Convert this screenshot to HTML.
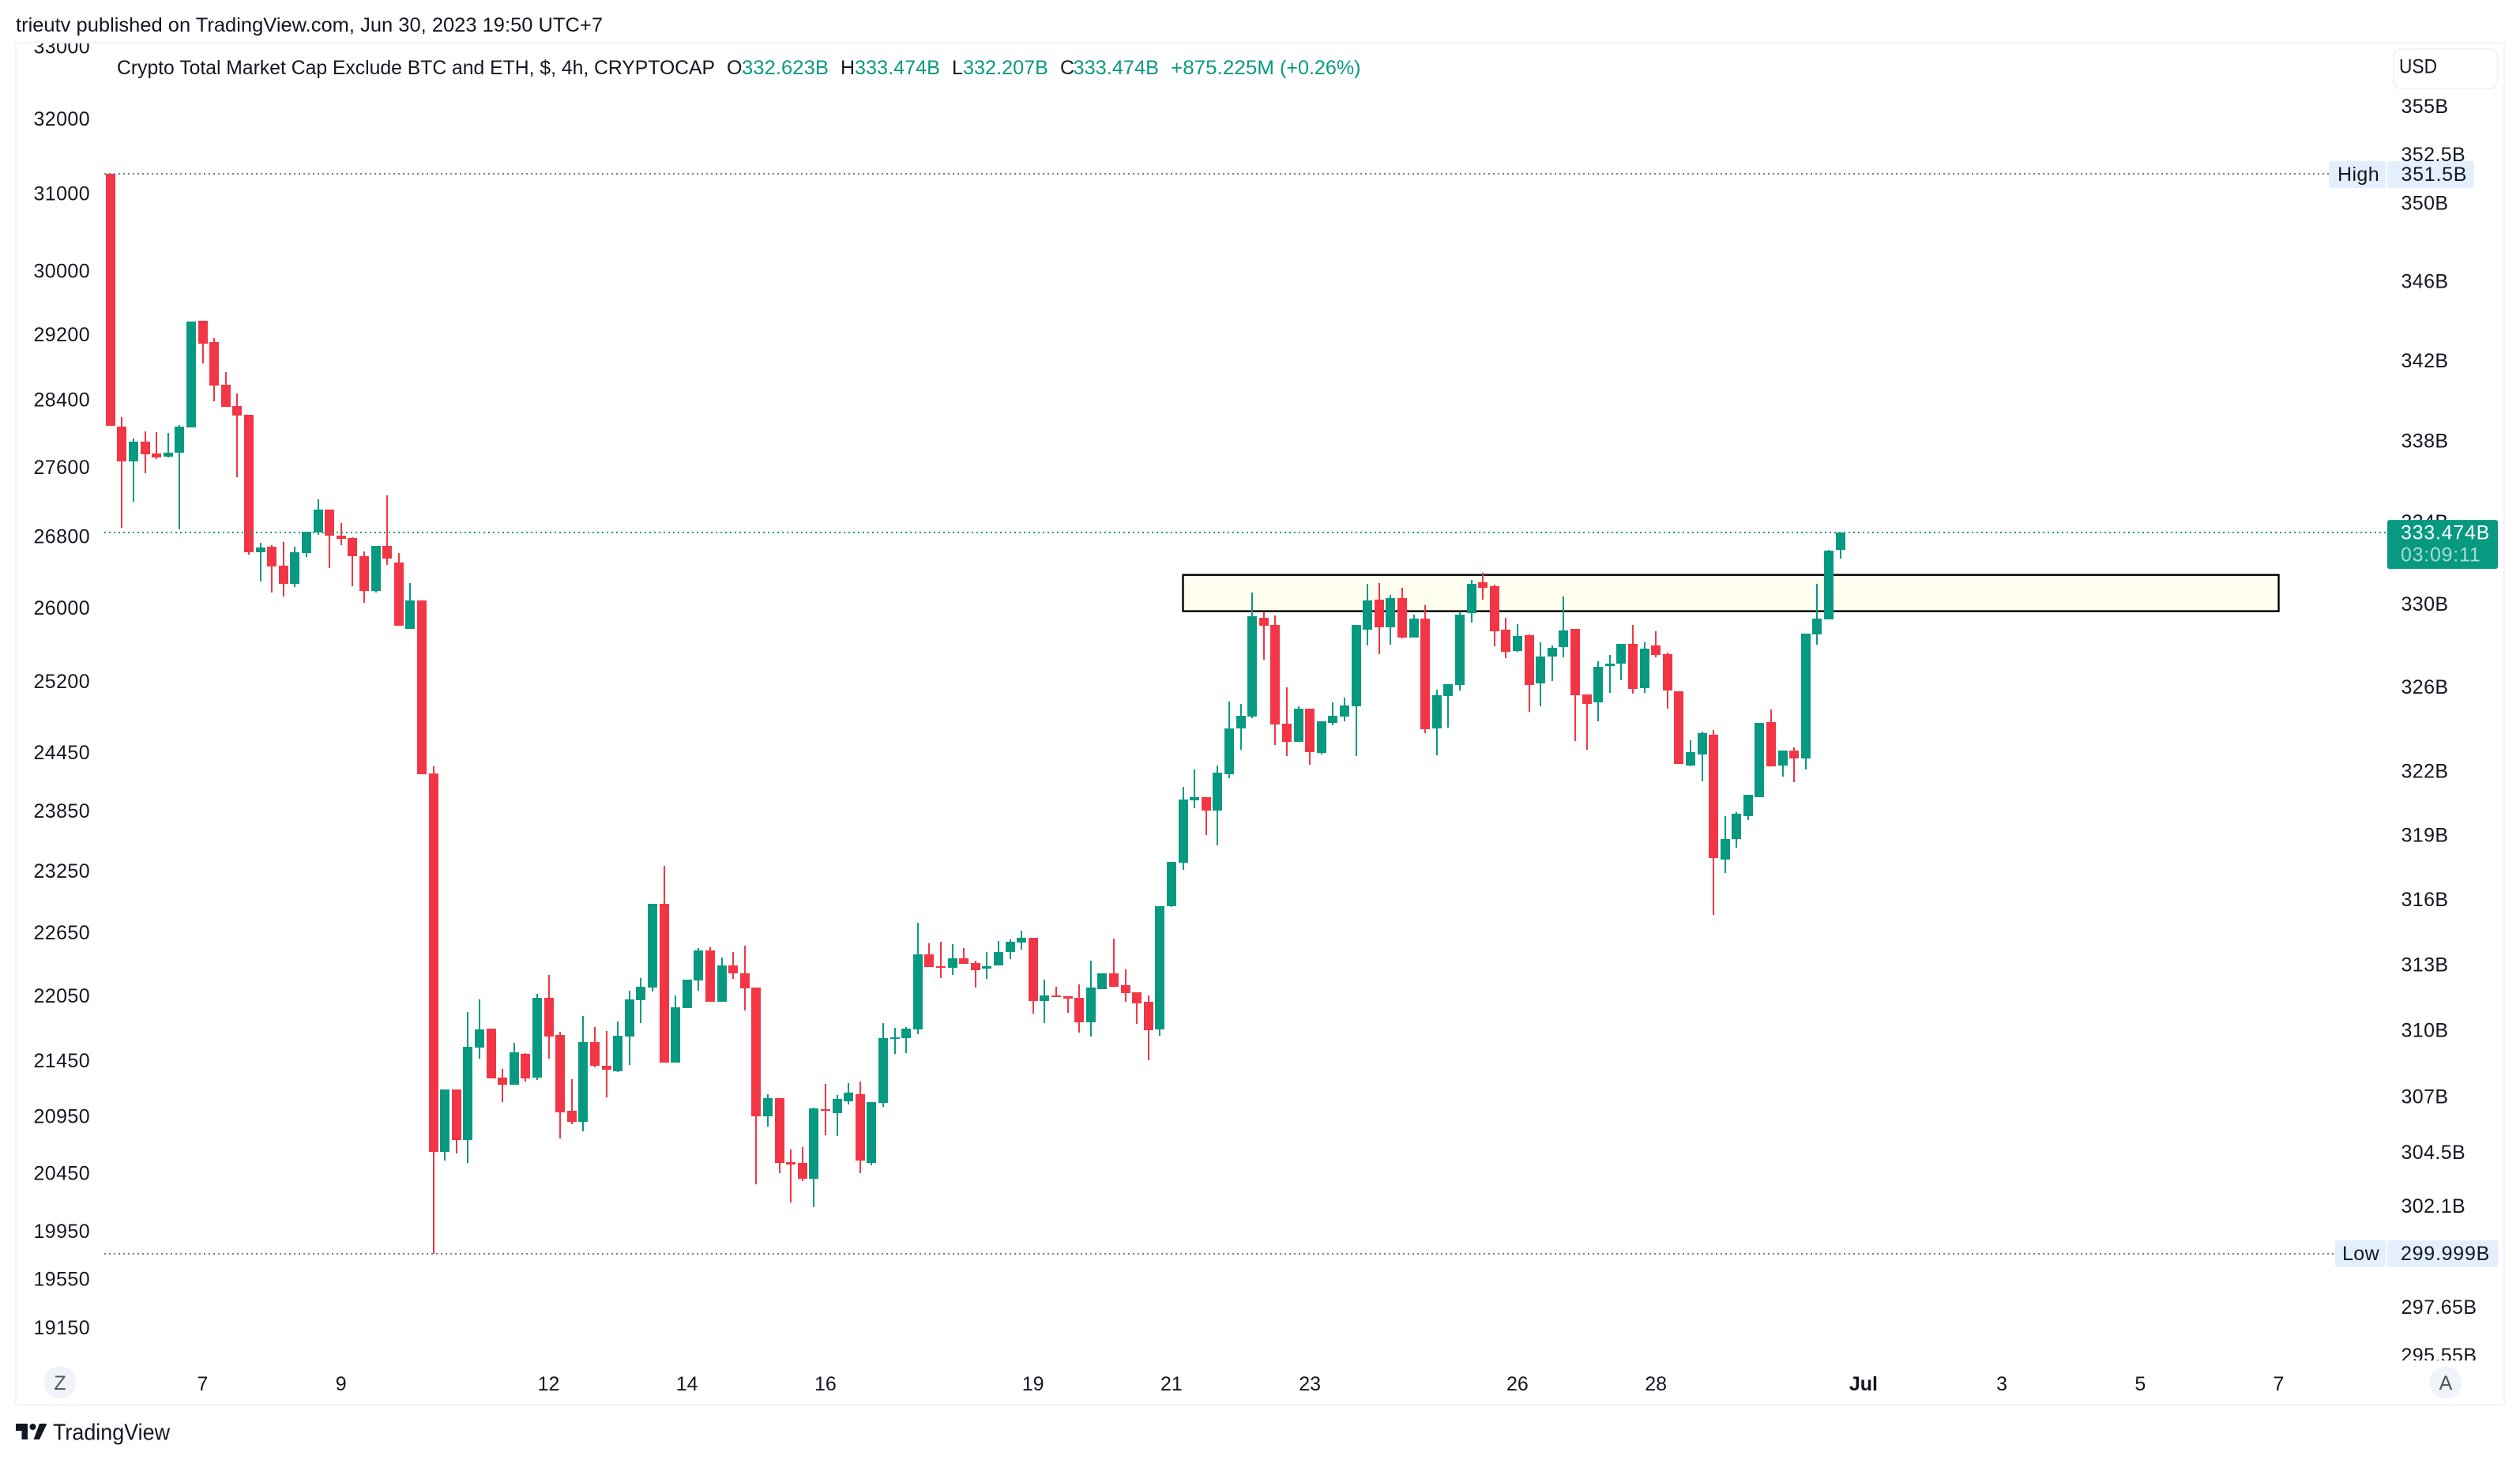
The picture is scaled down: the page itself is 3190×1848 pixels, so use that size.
<!DOCTYPE html>
<html lang="en">
<head>
<meta charset="utf-8">
<title>Crypto Total Market Cap Exclude BTC and ETH chart</title>
<style>
html,body{margin:0;padding:0;background:#fff;width:3190px;height:1848px;overflow:hidden}
svg{display:block}
text{font-family:"Liberation Sans",Arial,sans-serif;fill:#131722;font-size:25px}
.tick{letter-spacing:.4px}
.val{letter-spacing:.75px}
.g{fill:#089981}
</style>
</head>
<body>
<svg id="chart" xmlns="http://www.w3.org/2000/svg" width="3190" height="1848" viewBox="0 0 3190 1848">
  <defs>
    <clipPath id="axis-clip"><rect x="21" y="55" width="3148" height="1667"/></clipPath>
  </defs>
  <rect x="0" y="0" width="3190" height="1848" fill="#ffffff"/>
  <text x="20" y="40" textLength="743" lengthAdjust="spacingAndGlyphs">trieutv published on TradingView.com, Jun 30, 2023 19:50 UTC+7</text>
  <rect x="20" y="54" width="3150" height="1724" fill="#ffffff" stroke="#f0f3fa" stroke-width="2"/>
  <g id="left-axis" clip-path="url(#axis-clip)"></g>
  <g id="right-axis" clip-path="url(#axis-clip)"></g>
  <g id="zone"></g>
  <g id="candles"></g>
  <g id="lines"></g>
  <g id="labels"></g>
  <g id="time-axis"></g>

  <g>
    <text x="148" y="94" textLength="757" lengthAdjust="spacingAndGlyphs">Crypto Total Market Cap Exclude BTC and ETH, $, 4h, CRYPTOCAP</text>
    <text x="920" y="94">O</text>
    <text class="g" x="939" y="94" textLength="110" lengthAdjust="spacingAndGlyphs">332.623B</text>
    <text x="1064" y="94">H</text>
    <text class="g" x="1082" y="94" textLength="108" lengthAdjust="spacingAndGlyphs">333.474B</text>
    <text x="1205" y="94">L</text>
    <text class="g" x="1219" y="94" textLength="108" lengthAdjust="spacingAndGlyphs">332.207B</text>
    <text x="1342" y="94">C</text>
    <text class="g" x="1358.5" y="94" textLength="108.5" lengthAdjust="spacingAndGlyphs">333.474B</text>
    <text class="g" x="1482" y="94" textLength="131" lengthAdjust="spacingAndGlyphs">+875.225M</text>
    <text class="g" x="1620" y="94" textLength="102.5" lengthAdjust="spacingAndGlyphs">(+0.26%)</text>
  </g>

  <g>
    <rect x="3030" y="62" width="131.5" height="50" rx="9" fill="#ffffff" stroke="#f0f3fa" stroke-width="2"/>
    <text x="3037" y="92.5" textLength="48" lengthAdjust="spacingAndGlyphs">USD</text>
  </g>

  <g>
    <circle cx="76" cy="1750" r="20.5" fill="#f0f3fa"/>
    <text x="76" y="1759" text-anchor="middle" style="fill:#50535e">Z</text>
  </g>
  <g>
    <circle cx="3096" cy="1750" r="20.5" fill="#f0f3fa"/>
    <text x="3096" y="1759" text-anchor="middle" style="fill:#50535e">A</text>
  </g>

  <g>
    <polygon points="20,1802 35,1802 35,1822 27.5,1822 27.5,1811 20,1811" fill="#131722"/>
    <circle cx="41.5" cy="1806" r="4" fill="#131722"/>
    <polygon points="50,1802 59.5,1802 50,1822 42.5,1822" fill="#131722"/>
    <text x="67" y="1822.5" textLength="148" lengthAdjust="spacingAndGlyphs" style="font-size:29px">TradingView</text>
  </g>
</svg>

<script>
// ---- Series values in billions of USD, one entry per 4h bar ----
const opens = [
351.50,338.70,336.98,337.96,337.37,337.21,337.41,338.66,344.00,342.93,
340.79,339.72,339.29,332.52,332.79,331.87,330.99,332.48,333.49,334.61,
333.33,333.22,332.33,330.64,332.83,332.02,328.80,330.18,321.91,304.51,
307.31,305.04,309.21,310.07,307.85,307.53,308.92,307.85,311.48,309.78,
306.35,305.85,309.46,308.39,308.14,309.71,311.37,311.95,315.80,308.53,
311.01,312.28,313.65,311.30,312.96,312.60,311.95,306.10,306.92,304.05,
304.02,303.31,306.42,306.24,306.77,307.10,304.02,306.70,309.60,309.64,
310.03,313.47,312.93,312.86,313.29,313.07,312.82,312.96,313.58,314.01,
314.23,311.33,311.59,311.55,311.48,310.36,311.88,312.60,312.06,311.73,
311.30,310.03,315.69,317.71,320.64,320.79,320.16,321.87,324.04,324.60,
329.34,329.00,324.26,323.40,324.97,322.88,324.30,324.60,325.09,328.76,
330.22,328.88,330.30,328.38,329.30,324.04,325.58,326.11,329.57,331.06,
330.87,328.76,327.74,328.50,326.19,327.48,327.93,328.80,325.66,325.28,
327.02,327.13,328.08,325.96,328.01,327.59,325.81,322.28,322.80,323.74,
317.85,318.82,319.90,320.79,324.34,322.28,322.99,322.62,328.54,329.26,
332.623];
const highs = [
351.50,339.17,338.12,338.47,338.43,338.39,338.78,343.96,344.00,343.13,
341.42,340.35,339.29,332.98,332.87,333.02,332.79,333.53,335.11,334.61,
333.95,333.26,332.56,332.83,335.31,332.48,331.02,330.18,322.24,307.31,
307.31,310.83,311.41,310.07,308.24,309.42,308.96,311.66,312.53,309.93,
307.78,310.65,310.14,309.96,310.39,311.80,312.38,315.80,317.56,311.59,
312.31,313.76,313.80,313.33,313.58,313.87,311.95,307.10,306.92,304.62,
304.72,306.49,307.56,307.06,307.60,307.67,306.74,310.32,310.10,310.14,
314.93,313.98,314.05,313.94,313.76,313.18,313.58,314.09,314.16,314.56,
314.23,312.31,311.99,311.55,312.09,313.18,312.60,314.20,312.78,311.73,
311.59,315.69,317.74,321.27,322.09,320.79,322.28,325.31,325.20,330.57,
329.61,329.45,326.00,325.09,324.97,324.37,325.28,325.50,329.00,330.99,
331.02,330.45,330.80,329.49,329.95,325.88,326.15,329.65,331.18,331.52,
330.95,329.34,329.03,328.54,328.16,328.01,330.37,328.80,325.66,327.25,
327.55,328.08,329.00,328.16,328.69,327.66,325.81,323.48,323.89,323.96,
319.90,320.08,320.90,324.30,324.94,322.99,323.14,328.57,330.99,332.64,
333.474];
const lows = [
338.74,333.72,335.00,336.39,337.09,337.17,333.64,338.66,341.86,339.96,
339.68,336.20,332.40,331.10,330.57,330.37,330.83,332.29,333.37,331.75,
332.87,330.87,330.07,330.57,331.91,328.96,328.80,321.87,299.999,304.12,
304.44,304.00,308.71,307.81,306.74,307.53,307.67,307.74,308.71,305.11,
305.75,305.43,308.31,306.95,308.10,308.42,310.32,311.77,308.53,308.53,
311.01,311.80,311.30,311.30,312.35,310.90,303.07,305.64,303.56,302.26,
303.21,302.05,305.25,305.22,306.63,303.56,303.91,306.52,308.92,308.96,
309.82,312.89,312.38,312.53,313.04,311.95,312.35,312.96,313.25,313.69,
310.76,310.32,311.52,310.79,309.89,309.71,311.88,311.99,311.30,310.28,
308.64,309.75,315.66,317.37,320.27,319.01,318.52,321.68,323.03,324.52,
327.32,323.25,322.73,323.40,322.32,322.80,324.19,324.37,322.73,328.01,
327.59,328.04,328.35,328.38,323.81,322.77,324.07,325.85,329.11,330.22,
327.97,327.40,327.70,324.82,325.09,326.30,327.44,323.44,323.03,324.37,
325.73,326.34,325.69,325.73,327.44,324.97,322.35,322.24,321.53,315.29,
317.23,318.41,319.71,320.79,322.24,321.76,321.49,322.09,328.04,329.26,
332.207];
const closes = [
338.74,336.98,337.96,337.33,337.17,337.41,338.70,343.96,342.85,340.75,
339.68,339.25,332.52,332.75,331.83,330.99,332.52,333.53,334.61,333.33,
333.18,332.33,330.64,332.83,332.21,328.96,330.18,321.87,304.51,307.31,
305.04,309.25,310.03,307.81,307.53,309.00,307.81,311.48,309.71,306.28,
305.85,309.46,308.39,308.21,309.75,311.41,311.99,315.80,308.53,311.05,
312.31,313.65,311.30,312.96,312.60,311.91,306.10,306.92,304.00,303.94,
303.31,306.45,306.35,306.88,307.17,304.12,306.74,309.64,309.67,310.07,
313.47,312.89,312.86,313.29,313.04,312.75,312.93,313.58,314.05,314.23,
311.33,311.59,311.52,311.44,310.36,311.95,312.60,311.99,311.70,311.23,
309.99,315.69,317.74,320.67,320.79,320.16,321.94,324.04,324.64,329.42,
328.96,324.22,323.40,324.97,322.91,324.37,324.64,325.13,329.00,330.18,
328.88,330.30,328.38,329.30,324.00,325.62,326.15,329.49,330.99,330.80,
328.69,327.70,328.46,326.11,327.48,327.89,328.72,325.62,325.20,326.98,
327.13,328.08,325.92,327.85,327.55,325.85,322.35,322.91,323.81,317.93,
318.82,320.01,320.90,324.30,322.24,322.99,322.62,328.57,329.30,332.60,
333.474];

// ---- Axis tick labels ----
const leftTicks = [33000,32000,31000,30000,29200,28400,27600,26800,26000,25200,24450,23850,23250,22650,22050,21450,20950,20450,19950,19550,19150];
const rightTicks = [355,352.5,350,346,342,338,334,330,326,322,319,316,313,310,307,304.5,302.1,297.65,295.55];
const rightTickLabels = ["355B","352.5B","350B","346B","342B","338B","334B","330B","326B","322B","319B","316B","313B","310B","307B","304.5B","302.1B","297.65B","295.55B"];
// Days counted from June 1 = 1; July dates continue as 31, 33, ...
const timeTickDays = [7,9,12,14,16,19,21,23,26,28,31,33,35,37];
const timeTickLabels = ["7","9","12","14","16","19","21","23","26","28","Jul","3","5","7"];

// ---- Key price levels and the drawn zone (bar numbers, billions of USD) ----
const seriesHigh = 351.5;
const seriesLow = 299.999;
const lastPrice = 333.474;
const zoneBars = [93, 188];
const zonePrices = [331.41, 329.65];

// ---- Axis functions ----
const SVGNS = "http://www.w3.org/2000/svg";
function xBar(i){ return 139.7 + 14.6 * i; }
function xDay(d){ return xBar(8 + (d - 7) * 6); }
function yRight(v){ return 220 + 8627 * Math.log(351.5 / v); }
function yLeft(v){ return 150 + 2980 * Math.log(32000 / v); }

function make(tag, attrs, parent, content){
  const el = document.createElementNS(SVGNS, tag);
  for (const k in attrs) el.setAttribute(k, attrs[k]);
  if (content !== undefined) el.textContent = content;
  parent.appendChild(el);
  return el;
}

// Left axis
const leftG = document.getElementById("left-axis");
leftTicks.forEach(function(t){
  const el = make("text", {x:42.5, y:(yLeft(t) + 9).toFixed(1), class:"tick"}, leftG, String(t));
  
  
});

// Right axis
const rightG = document.getElementById("right-axis");
rightTicks.forEach(function(t, i){
  const el = make("text", {x:3039.5, y:(yRight(t) + 8.5).toFixed(1), class:"tick"}, rightG, rightTickLabels[i]);
  
  
});

// Time axis
const timeG = document.getElementById("time-axis");
timeTickDays.forEach(function(d, i){
  const lab = timeTickLabels[i];
  const el = make("text", {x:xDay(d).toFixed(1), y:1760, "text-anchor":"middle"}, timeG, lab);
  
  
  if (lab === "Jul") el.style.fontWeight = "700";
});

// Zone
const zoneEl = make("rect", {
  x: xBar(zoneBars[0]).toFixed(1),
  y: yRight(zonePrices[0]).toFixed(1),
  width: (xBar(zoneBars[1]) - xBar(zoneBars[0])).toFixed(1),
  height: (yRight(zonePrices[1]) - yRight(zonePrices[0])).toFixed(1),
  fill: "#fffeef", stroke: "#000000", "stroke-width": 2.4
}, document.getElementById("zone"));



// Candles
const candleG = document.getElementById("candles");
opens.forEach(function(o, i){
  const c = closes[i], up = c >= o, col = up ? "#089981" : "#f23645";
  const cx = Math.round(xBar(i));
  const yH = Math.round(yRight(highs[i])), yL = Math.round(yRight(lows[i]));
  const yT = Math.round(yRight(Math.max(o, c))), yB = Math.round(yRight(Math.min(o, c)));
  const wick = make("rect", {x:cx - 1, y:yH, width:2, height:Math.max(1, yL - yH), fill:col}, candleG);
  
  
  const body = make("rect", {x:cx - 6, y:yT, width:12, height:Math.max(2, yB - yT), fill:col}, candleG);
  
  
});

// Dotted price lines
const lineG = document.getElementById("lines");
const highLine = make("line", {x1:132, x2:2948, y1:Math.round(yRight(seriesHigh)), y2:Math.round(yRight(seriesHigh)), stroke:"#787b86", "stroke-width":2, "stroke-dasharray":"2 4"}, lineG);


const lowLine = make("line", {x1:132, x2:2956, y1:Math.round(yRight(seriesLow)), y2:Math.round(yRight(seriesLow)), stroke:"#787b86", "stroke-width":2, "stroke-dasharray":"2 4"}, lineG);


const lastLine = make("line", {x1:132, x2:3022, y1:Math.round(yRight(lastPrice)), y2:Math.round(yRight(lastPrice)), stroke:"#089981", "stroke-width":2, "stroke-dasharray":"2 4"}, lineG);



// Price labels
const labelG = document.getElementById("labels");
const yHi = yRight(seriesHigh), yLo = yRight(seriesLow), yLast = yRight(lastPrice);

const hiBox = make("rect", {x:2948, y:yHi - 16, width:72, height:34, rx:3, fill:"#e3effd"}, labelG);


const hiValBox = make("rect", {x:3022, y:yHi - 16, width:110, height:34, rx:3, fill:"#e3effd"}, labelG);


const hiTxt = make("text", {x:2959, y:yHi + 9, class:"tick"}, labelG, "High");


const hiVal = make("text", {x:3039.5, y:yHi + 9, class:"val"}, labelG, seriesHigh + "B");



const loBox = make("rect", {x:2956, y:yLo - 17, width:64, height:34, rx:3, fill:"#e3effd"}, labelG);


const loValBox = make("rect", {x:3022, y:yLo - 17, width:140, height:34, rx:3, fill:"#e3effd"}, labelG);


const loTxt = make("text", {x:2965, y:yLo + 8, class:"tick"}, labelG, "Low");


const loVal = make("text", {x:3039, y:yLo + 8, class:"val"}, labelG, seriesLow + "B");



const lastBox = make("rect", {x:3022, y:yLast - 16, width:140, height:62, rx:3, fill:"#089981"}, labelG);


const lastTxt = make("text", {x:3039, y:yLast + 8.5, class:"val", style:"fill:#ffffff"}, labelG, lastPrice + "B");


const cdTxt = make("text", {x:3039, y:yLast + 36.5, class:"val", style:"fill:#a8dcd2"}, labelG, "03:09:11");


</script>
</body>
</html>
